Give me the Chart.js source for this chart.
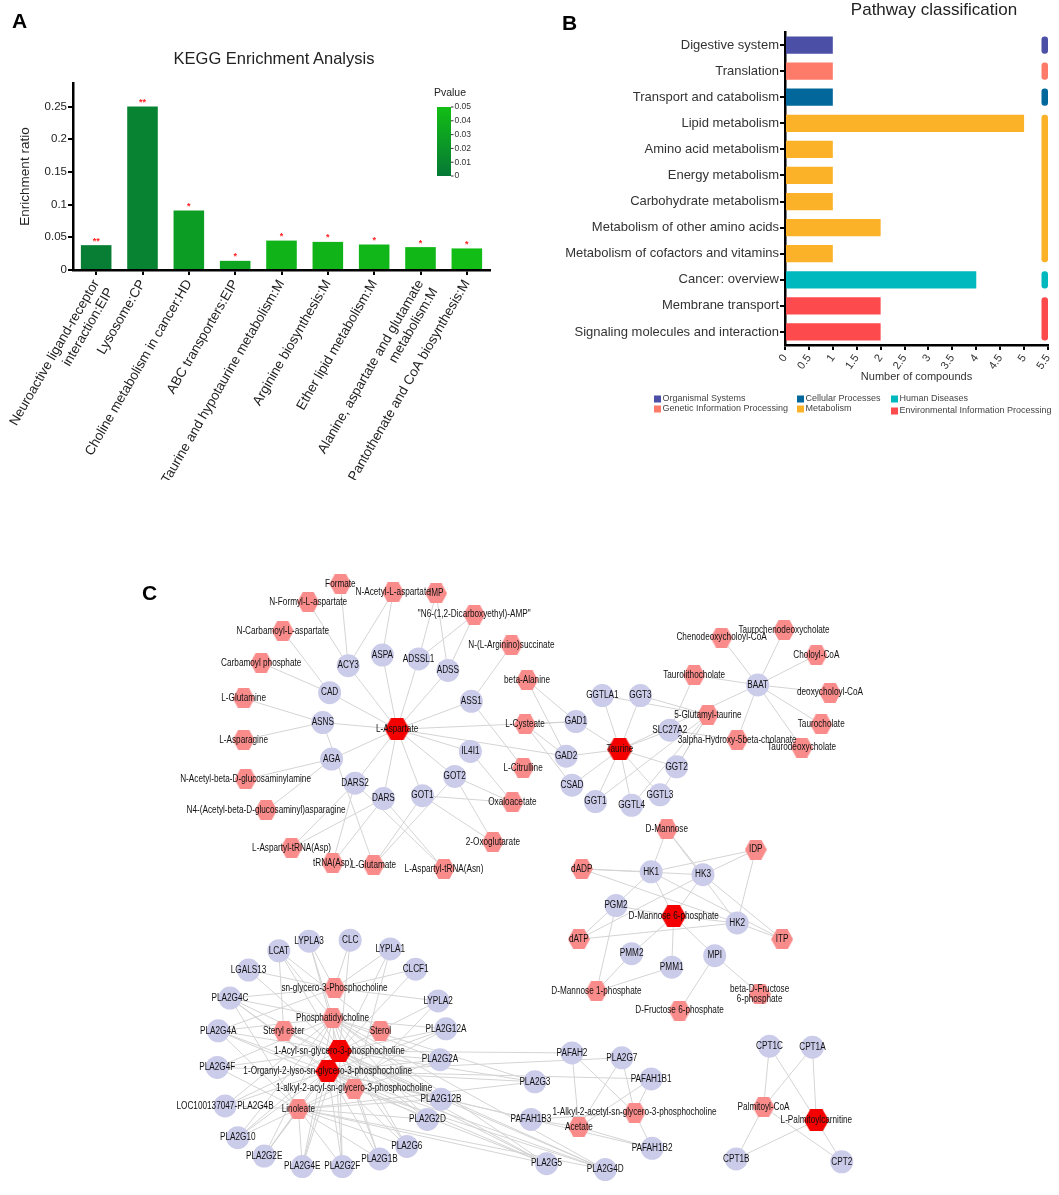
<!DOCTYPE html>
<html>
<head>
<meta charset="utf-8">
<title>KEGG enrichment, pathway classification and network</title>
<script src="https://cdn.jsdelivr.net/npm/chart.js@4.4.1/dist/chart.umd.min.js"></script>
<style>
  html, body { margin: 0; padding: 0; background: #fff; }
  #page { position: relative; width: 1059px; height: 1195px; overflow: hidden; font-family: Arial, "Liberation Sans", sans-serif; }
  #page canvas { position: absolute; }
  .panel { position: absolute; font-weight: bold; font-size: 21px; line-height: 1; color: #000; }
  .title { position: absolute; line-height: 1; white-space: nowrap; transform: translateX(-50%); color: #222; }
</style>
</head>
<body>
<div id="page">
  <canvas id="kegg" width="530" height="480" style="left:0;top:0"></canvas>
  <canvas id="pathway" width="529" height="430" style="left:530px;top:0"></canvas>
  <canvas id="network" width="1059" height="655" style="left:0;top:540px"></canvas>
  <div class="panel" style="left:12px;top:10px">A</div>
  <div class="panel" style="left:562px;top:12px">B</div>
  <div class="panel" style="left:142px;top:582px">C</div>
  <div class="title" style="left:274px;top:50px;font-size:16.5px">KEGG Enrichment Analysis</div>
  <div class="title" style="left:934px;top:1px;font-size:17px">Pathway classification</div>
</div>
<script>
const FONT = "Arial, 'Liberation Sans', Helvetica, sans-serif";
Chart.defaults.font.family = FONT;

// ---------- A: KEGG enrichment ----------
const keggPathways = [
  ['Neuroactive ligand-receptor', 'interaction:EIP'],
  'Lysosome:CP',
  'Choline metabolism in cancer:HD',
  'ABC transporters:EIP',
  'Taurine and hypotaurine metabolism:M',
  'Arginine biosynthesis:M',
  'Ether lipid metabolism:M',
  ['Alanine, aspartate and glutamate', 'metabolism:M'],
  'Pantothenate and CoA biosynthesis:M'
];
const keggRatio = [0.038, 0.25, 0.091, 0.014, 0.045, 0.043, 0.039, 0.035, 0.033];
const keggPvalue = [0.004, 0.008, 0.027, 0.032, 0.043, 0.043, 0.044, 0.045, 0.049];
const keggStars = ['**', '**', '*', '*', '*', '*', '*', '*', '*'];
const pvalueTicks = [0, 0.01, 0.02, 0.03, 0.04, 0.05];

// ---------- B: pathway classification ----------
const pathwayNames = [
  'Digestive system', 'Translation', 'Transport and catabolism', 'Lipid metabolism',
  'Amino acid metabolism', 'Energy metabolism', 'Carbohydrate metabolism',
  'Metabolism of other amino acids', 'Metabolism of cofactors and vitamins',
  'Cancer: overview', 'Membrane transport', 'Signaling molecules and interaction'
];
const pathwayCounts = [1, 1, 1, 5, 1, 1, 1, 2, 1, 4, 2, 2];
const pathwayClass = [
  'Organismal Systems', 'Genetic Information Processing', 'Cellular Processes',
  'Metabolism', 'Metabolism', 'Metabolism', 'Metabolism', 'Metabolism', 'Metabolism',
  'Human Diseases', 'Environmental Information Processing', 'Environmental Information Processing'
];
const classNames = [
  'Organismal Systems', 'Genetic Information Processing', 'Cellular Processes',
  'Metabolism', 'Human Diseases', 'Environmental Information Processing'
];

// ---------- C: network ----------
const GPC = 'sn-glycero-3-Phosphocholine', PC = 'Phosphatidylcholine', SE = 'Steryl ester', ST = 'Sterol';
const LPC = '1-Acyl-sn-glycero-3-phosphocholine', OLPC = '1-Organyl-2-lyso-sn-glycero-3-phosphocholine';
const AAPC = '1-alkyl-2-acyl-sn-glycero-3-phosphocholine', LIN = 'Linoleate';
const PAF = '1-Alkyl-2-acetyl-sn-glycero-3-phosphocholine', ACE = 'Acetate';

const geneNodes = [
  ['ASPA', 379, 647], ['ADSSL1', 416, 651], ['ACY3', 344, 658], ['ADSS', 446, 663],
  ['CAD', 325, 686], ['ASS1', 470, 695], ['ASNS', 318, 717], ['IL4I1', 469, 747],
  ['AGA', 327, 755], ['GOT2', 453, 773], ['DARS2', 351, 780], ['GOT1', 420, 793], ['DARS', 380, 796],
  ['GGTLA1', 604, 689], ['GGT3', 643, 689], ['GAD1', 577, 716], ['SLC27A2', 673, 725],
  ['GAD2', 567, 752], ['GGT2', 680, 763], ['CSAD', 573, 782], ['GGTL3', 663, 792],
  ['GGT1', 597, 799], ['GGTL4', 634, 803], ['BAAT', 763, 678],
  ['HK1', 654, 872], ['HK3', 707, 875], ['PGM2', 618, 907], ['HK2', 742, 925],
  ['PMM2', 634, 957], ['MPI', 719, 959], ['PMM1', 675, 971],
  ['LYPLA3', 304, 944], ['CLC', 346, 943], ['LCAT', 273, 954], ['LYPLA1', 387, 952],
  ['LGALS13', 242, 974], ['CLCF1', 413, 973], ['PLA2G4C', 223, 1003], ['LYPLA2', 436, 1006],
  ['PLA2G4A', 211, 1037], ['PLA2G12A', 444, 1035], ['PLA2G2A', 438, 1067], ['PLA2G4F', 210, 1075],
  ['PLA2G12B', 439, 1108], ['LOC100137047-PLA2G4B', 218, 1115], ['PLA2G2D', 425, 1129],
  ['PLA2G10', 231, 1148], ['PLA2G6', 404, 1157], ['PLA2G2E', 258, 1167], ['PLA2G1B', 376, 1170],
  ['PLA2G4E', 297, 1178], ['PLA2G2F', 338, 1178],
  ['PAFAH2', 573, 1060], ['PLA2G7', 624, 1065], ['PLA2G3', 535, 1090], ['PAFAH1B1', 654, 1087],
  ['PAFAH1B3', 531, 1129], ['PAFAH1B2', 655, 1159], ['PLA2G5', 547, 1175], ['PLA2G4D', 607, 1181],
  ['CPT1C', 775, 1053], ['CPT1A', 819, 1054], ['CPT1B', 741, 1170], ['CPT2', 849, 1173]
];
const metaboliteNodes = [
  ['Formate', 336, 573], ['N-Acetyl-L-aspartate', 390, 582], ['IMP', 434, 583],
  ['N-Formyl-L-aspartate', 303, 592], ['"N6-(1,2-Dicarboxyethyl)-AMP"', 473, 605],
  ['N-Carbamoyl-L-aspartate', 277, 622], ['N-(L-Arginino)succinate', 511, 637],
  ['Carbamoyl phosphate', 255, 655], ['beta-Alanine', 527, 673], ['L-Glutamine', 237, 692],
  ['L-Cysteate', 525, 719], ['L-Asparagine', 237, 735], ['L-Citrulline', 523, 764],
  ['N-Acetyl-beta-D-glucosaminylamine', 239, 776], ['Oxaloacetate', 512, 800],
  ['N4-(Acetyl-beta-D-glucosaminyl)asparagine', 260, 808], ['2-Oxoglutarate', 492, 841],
  ['L-Aspartyl-tRNA(Asp)', 286, 847], ['tRNA(Asp)', 328, 863], ['L-Glutamate', 370, 865],
  ['L-Aspartyl-tRNA(Asn)', 442, 869],
  ['Taurolithocholate', 698, 668], ['5-Glutamyl-taurine', 712, 709],
  ['3alpha-Hydroxy-5beta-cholanate', 742, 735], ['Chenodeoxycholoyl-CoA', 726, 629],
  ['Taurochenodeoxycholate', 790, 621], ['Choloyl-CoA', 823, 647], ['deoxycholoyl-CoA', 837, 686],
  ['Taurocholate', 828, 719], ['Taurodeoxycholate', 808, 743],
  ['D-Mannose', 670, 828], ['IDP', 761, 849], ['dADP', 583, 869], ['ITP', 788, 942], ['dATP', 580, 942],
  ['D-Mannose 1-phosphate', 598, 996], ['beta-D-Fructose\n6-phosphate', 765, 999],
  ['D-Fructose 6-phosphate', 683, 1016],
  [GPC, 330, 993], [PC, 328, 1024], [SE, 278, 1037], [ST, 377, 1037],
  [AAPC, 350, 1097], [LIN, 293, 1118], [PAF, 637, 1122], [ACE, 580, 1137],
  ['Palmitoyl-CoA', 769, 1116]
];
const keyMetaboliteNodes = [
  ['L-Aspartate', 394, 724], ['Taurine', 622, 745], ['D-Mannose 6-phosphate', 677, 918],
  [LPC, 335, 1058], [OLPC, 323, 1079], ['L-Palmitoylcarnitine', 823, 1130]
];
const networkLinks = [
  ['ASPA', ['L-Aspartate', 'N-Acetyl-L-aspartate']],
  ['ACY3', ['L-Aspartate', 'N-Acetyl-L-aspartate', 'Formate', 'N-Formyl-L-aspartate']],
  ['ADSSL1', ['L-Aspartate', 'IMP', '"N6-(1,2-Dicarboxyethyl)-AMP"']],
  ['ADSS', ['L-Aspartate', 'IMP', '"N6-(1,2-Dicarboxyethyl)-AMP"']],
  ['CAD', ['L-Aspartate', 'N-Carbamoyl-L-aspartate', 'Carbamoyl phosphate']],
  ['ASNS', ['L-Aspartate', 'L-Glutamine', 'L-Asparagine', 'L-Glutamate']],
  ['AGA', ['L-Aspartate', 'N-Acetyl-beta-D-glucosaminylamine', 'N4-(Acetyl-beta-D-glucosaminyl)asparagine']],
  ['ASS1', ['L-Aspartate', 'N-(L-Arginino)succinate', 'L-Citrulline']],
  ['IL4I1', ['L-Aspartate', 'Oxaloacetate']],
  ['GOT2', ['L-Aspartate', 'Oxaloacetate', '2-Oxoglutarate', 'L-Glutamate']],
  ['GOT1', ['L-Aspartate', 'Oxaloacetate', '2-Oxoglutarate', 'L-Glutamate']],
  ['DARS2', ['L-Aspartate', 'L-Aspartyl-tRNA(Asp)', 'tRNA(Asp)', 'L-Aspartyl-tRNA(Asn)']],
  ['DARS', ['L-Aspartate', 'L-Aspartyl-tRNA(Asp)', 'tRNA(Asp)', 'L-Aspartyl-tRNA(Asn)']],
  ['GAD1', ['L-Aspartate', 'Taurine', 'beta-Alanine', 'L-Cysteate']],
  ['GAD2', ['L-Aspartate', 'Taurine', 'beta-Alanine', 'L-Cysteate']],
  ['CSAD', ['Taurine', 'L-Cysteate']],
  ['GGTLA1', ['Taurine', '5-Glutamyl-taurine']],
  ['GGT3', ['Taurine', '5-Glutamyl-taurine']],
  ['SLC27A2', ['Taurine', 'Taurolithocholate', '3alpha-Hydroxy-5beta-cholanate']],
  ['GGT2', ['Taurine', '5-Glutamyl-taurine']],
  ['GGTL3', ['Taurine', '5-Glutamyl-taurine']],
  ['GGT1', ['Taurine', '5-Glutamyl-taurine']],
  ['GGTL4', ['Taurine', '5-Glutamyl-taurine']],
  ['BAAT', ['Taurine', 'Taurolithocholate', '3alpha-Hydroxy-5beta-cholanate', 'Chenodeoxycholoyl-CoA',
            'Taurochenodeoxycholate', 'Choloyl-CoA', 'deoxycholoyl-CoA', 'Taurocholate', 'Taurodeoxycholate']],
  ['HK1', ['D-Mannose', 'dADP', 'IDP', 'ITP', 'dATP', 'D-Mannose 6-phosphate']],
  ['HK3', ['D-Mannose', 'dADP', 'IDP', 'ITP', 'dATP', 'D-Mannose 6-phosphate']],
  ['HK2', ['D-Mannose', 'dADP', 'IDP', 'ITP', 'dATP', 'D-Mannose 6-phosphate']],
  ['PGM2', ['D-Mannose 6-phosphate', 'D-Mannose 1-phosphate']],
  ['PMM2', ['D-Mannose 6-phosphate', 'D-Mannose 1-phosphate']],
  ['PMM1', ['D-Mannose 6-phosphate', 'D-Mannose 1-phosphate']],
  ['MPI', ['D-Mannose 6-phosphate', 'D-Fructose 6-phosphate', 'beta-D-Fructose\n6-phosphate']],
  ['LYPLA3', [GPC, LPC, PC]],
  ['CLC', [GPC, LPC]],
  ['LCAT', [PC, SE, ST, LPC]],
  ['LYPLA1', [GPC, LPC, AAPC]],
  ['LGALS13', [GPC, LPC]],
  ['CLCF1', [GPC, LPC]],
  ['LYPLA2', [GPC, LPC, AAPC]],
  ['PLA2G4C', [PC, LPC, OLPC, AAPC, LIN, GPC]],
  ['PLA2G4A', [PC, LPC, OLPC, AAPC, LIN, GPC]],
  ['PLA2G4F', [PC, LPC, OLPC, LIN]],
  ['LOC100137047-PLA2G4B', [PC, LPC, OLPC, LIN]],
  ['PLA2G10', [PC, LPC, OLPC, LIN]],
  ['PLA2G2E', [PC, LPC, OLPC, LIN]],
  ['PLA2G4E', [PC, LPC, OLPC, LIN]],
  ['PLA2G2F', [PC, LPC, OLPC, LIN]],
  ['PLA2G1B', [PC, LPC, OLPC, LIN]],
  ['PLA2G6', [PC, LPC, OLPC, LIN]],
  ['PLA2G2D', [PC, LPC, OLPC, LIN]],
  ['PLA2G12B', [PC, LPC, OLPC, LIN]],
  ['PLA2G2A', [PC, LPC, OLPC, LIN]],
  ['PLA2G12A', [PC, LPC, OLPC, LIN]],
  ['PLA2G3', [PC, LPC, OLPC, LIN]],
  ['PLA2G5', [PC, LPC, OLPC, AAPC, LIN, SE]],
  ['PLA2G4D', [PC, LPC, OLPC, AAPC, LIN, SE]],
  ['PAFAH2', [PAF, ACE, LPC]],
  ['PLA2G7', [PAF, ACE, OLPC]],
  ['PAFAH1B1', [PAF, ACE, OLPC]],
  ['PAFAH1B3', [PAF, ACE, OLPC]],
  ['PAFAH1B2', [PAF, ACE, OLPC]],
  ['CPT1C', ['Palmitoyl-CoA', 'L-Palmitoylcarnitine']],
  ['CPT1A', ['Palmitoyl-CoA', 'L-Palmitoylcarnitine']],
  ['CPT1B', ['Palmitoyl-CoA', 'L-Palmitoylcarnitine']],
  ['CPT2', ['Palmitoyl-CoA', 'L-Palmitoylcarnitine']]
];

// ---------- styles ----------
const lowGreen = [6, 120, 54], highGreen = [18, 190, 20];
function pColor(p) {
  const t = Math.max(0, Math.min(1, p / 0.05));
  const c = lowGreen.map((v, i) => Math.round(v + (highGreen[i] - v) * t));
  return 'rgb(' + c.join(',') + ')';
}
const classColors = {
  'Organismal Systems': '#4b50a6',
  'Genetic Information Processing': '#fd7b68',
  'Cellular Processes': '#02679a',
  'Metabolism': '#fcb228',
  'Human Diseases': '#00b9bf',
  'Environmental Information Processing': '#fd4a4c'
};

// ---------- plugins ----------
const starLabels = {
  id: 'starLabels',
  afterDatasetsDraw(chart) {
    const ctx = chart.ctx;
    ctx.save();
    ctx.fillStyle = '#ff2222';
    ctx.font = 'bold 9px ' + FONT;
    ctx.textAlign = 'center';
    ctx.textBaseline = 'alphabetic';
    chart.getDatasetMeta(0).data.forEach((bar, i) => ctx.fillText(keggStars[i], bar.x, bar.y - 1.5));
    ctx.restore();
  }
};

const pvalueBar = {
  id: 'pvalueBar',
  afterDraw(chart) {
    const ctx = chart.ctx;
    const x0 = 437, x1 = 451, yTop = 107, yBot = 176;
    ctx.save();
    const g = ctx.createLinearGradient(0, yBot, 0, yTop);
    g.addColorStop(0, pColor(0));
    g.addColorStop(1, pColor(0.05));
    ctx.fillStyle = g;
    ctx.fillRect(x0, yTop, x1 - x0, yBot - yTop);
    ctx.fillStyle = '#333';
    ctx.font = '8.5px ' + FONT;
    ctx.textAlign = 'left';
    ctx.textBaseline = 'middle';
    pvalueTicks.forEach(p => {
      const y = yBot - (yBot - yTop) * p / 0.05;
      ctx.fillRect(x1, y - 0.5, 2.5, 1);
      ctx.fillText(String(p), x1 + 3.5, y);
    });
    ctx.fillStyle = '#222';
    ctx.font = '10.5px ' + FONT;
    ctx.textAlign = 'center';
    ctx.fillText('Pvalue', 450, 93);
    ctx.restore();
  }
};

const classStrips = {
  id: 'classStrips',
  afterDatasetsDraw(chart) {
    const ctx = chart.ctx, area = chart.chartArea;
    const bars = chart.getDatasetMeta(0).data;
    ctx.save();
    let start = 0;
    for (let i = 1; i <= pathwayClass.length; i++) {
      if (i === pathwayClass.length || pathwayClass[i] !== pathwayClass[start]) {
        const top = bars[start].y - bars[start].height / 2;
        const bottom = bars[i - 1].y + bars[i - 1].height / 2;
        ctx.fillStyle = classColors[pathwayClass[start]];
        ctx.beginPath();
        ctx.roundRect(area.right - 6.5, top, 6.5, bottom - top, 3);
        ctx.fill();
        start = i;
      }
    }
    // legend, three columns of two
    const slots = [[124, 399], [124, 409], [267, 399], [267, 409], [361, 399], [361, 411]];
    ctx.font = '9px ' + FONT;
    ctx.textAlign = 'left';
    ctx.textBaseline = 'middle';
    classNames.forEach((name, i) => {
      const [x, y] = slots[i];
      ctx.fillStyle = classColors[name];
      ctx.fillRect(x, y - 3.5, 7, 7);
      ctx.fillStyle = '#444';
      ctx.fillText(name, x + 8.5, y);
    });
    ctx.restore();
  }
};

const nodeLabels = {
  id: 'nodeLabels',
  afterDatasetsDraw(chart) {
    const ctx = chart.ctx;
    ctx.save();
    ctx.fillStyle = '#111';
    ctx.font = '10px ' + FONT;
    ctx.textAlign = 'center';
    ctx.textBaseline = 'middle';
    chart.data.datasets.forEach((ds, di) => {
      if (!ds.names) return;
      chart.getDatasetMeta(di).data.forEach((pt, i) => {
        const lines = ds.names[i].split('\n');
        lines.forEach((ln, k) => {
          ctx.save();
          ctx.translate(pt.x, pt.y + (k - (lines.length - 1) / 2) * 10.5);
          ctx.scale(0.82, 1);
          ctx.fillText(ln, 0, 0);
          ctx.restore();
        });
      });
    });
    ctx.restore();
  }
};

// ---------- A ----------
new Chart(document.getElementById('kegg'), {
  type: 'bar',
  data: {
    labels: keggPathways,
    datasets: [{
      data: keggRatio,
      backgroundColor: keggPvalue.map(pColor),
      categoryPercentage: 1,
      barPercentage: 0.66
    }]
  },
  options: {
    responsive: false,
    animation: false,
    layout: { padding: { top: 83, right: 40, left: 0, bottom: 0 } },
    plugins: { legend: { display: false }, tooltip: { enabled: false } },
    scales: {
      x: {
        grid: { offset: false, drawOnChartArea: false, tickLength: 5, color: '#000', lineWidth: 2 },
        border: { color: '#000', width: 2.5 },
        ticks: { autoSkip: false, minRotation: 60, maxRotation: 60, color: '#222', font: { size: 13.5 }, padding: 2 },
        afterFit: s => { s.height = 210; s.paddingLeft = 0; s.paddingRight = 0; }
      },
      y: {
        min: 0,
        max: 0.286,
        grid: { drawOnChartArea: false, tickLength: 5, color: '#000', lineWidth: 2 },
        border: { color: '#000', width: 2.5 },
        ticks: { stepSize: 0.05, color: '#222', font: { size: 11.5 }, padding: 1, callback: v => String(+v.toFixed(2)) },
        afterBuildTicks: s => {
          s.ticks = s.ticks.filter(t => Math.abs(t.value * 20 - Math.round(t.value * 20)) < 1e-6);
        },
        title: { display: true, text: 'Enrichment ratio', color: '#222', font: { size: 13.5 }, padding: { top: 17, bottom: 0 } },
        afterFit: s => { s.width = 73; }
      }
    }
  },
  plugins: [starLabels, pvalueBar]
});

// ---------- B ----------
new Chart(document.getElementById('pathway'), {
  type: 'bar',
  data: {
    labels: pathwayNames,
    datasets: [{
      data: pathwayCounts,
      backgroundColor: pathwayClass.map(c => classColors[c]),
      categoryPercentage: 1,
      barPercentage: 0.66
    }]
  },
  options: {
    indexAxis: 'y',
    responsive: false,
    animation: false,
    layout: { padding: { top: 32, right: 11, left: 0, bottom: 0 } },
    plugins: { legend: { display: false }, tooltip: { enabled: false } },
    scales: {
      x: {
        min: 0,
        max: 5.5,
        grid: { drawOnChartArea: false, tickLength: 5, color: '#000', lineWidth: 2 },
        border: { color: '#000', width: 2.5 },
        ticks: { stepSize: 0.5, minRotation: 55, maxRotation: 55, color: '#333', font: { size: 11 }, padding: 2,
                 callback: v => String(+v.toFixed(1)) },
        title: { display: true, text: 'Number of compounds', color: '#333', font: { size: 11 }, padding: { top: 0, bottom: 46 } },
        afterFit: s => { s.height = 85; s.paddingLeft = 0; s.paddingRight = 0; }
      },
      y: {
        grid: { offset: false, drawOnChartArea: false, tickLength: 5, color: '#000', lineWidth: 2 },
        border: { color: '#000', width: 2.5 },
        ticks: { autoSkip: false, color: '#333', font: { size: 13 }, padding: 1 },
        afterFit: s => { s.width = 255; }
      }
    }
  },
  plugins: [classStrips]
});

// ---------- C ----------
function hexagon(w, h, color) {
  const c = document.createElement('canvas');
  c.width = w; c.height = h;
  const g = c.getContext('2d');
  g.fillStyle = color;
  g.beginPath();
  g.moveTo(0, h / 2); g.lineTo(w / 4, 0); g.lineTo(3 * w / 4, 0);
  g.lineTo(w, h / 2); g.lineTo(3 * w / 4, h); g.lineTo(w / 4, h);
  g.closePath();
  g.fill();
  return c;
}

const nodePos = {};
[...geneNodes, ...metaboliteNodes, ...keyMetaboliteNodes].forEach(([n, x, y]) => { nodePos[n] = { x, y }; });
const edgePoints = [];
networkLinks.forEach(([gene, mets]) => {
  mets.forEach(m => {
    if (!nodePos[gene] || !nodePos[m]) { console.warn('missing node', gene, m); return; }
    edgePoints.push({ ...nodePos[gene] }, { ...nodePos[m] }, { x: nodePos[m].x, y: null });
  });
});
const toPoints = arr => arr.map(([, x, y]) => ({ x, y }));

new Chart(document.getElementById('network'), {
  type: 'scatter',
  data: {
    datasets: [
      { type: 'line', data: edgePoints, borderColor: '#d4d4d4', borderWidth: 1, pointRadius: 0,
        spanGaps: false, fill: false, tension: 0, order: 3, clip: false },
      { data: toPoints(geneNodes), names: geneNodes.map(n => n[0]), pointStyle: 'circle',
        pointRadius: 11.5, backgroundColor: '#cbcbea', borderWidth: 0, order: 2, clip: false },
      { data: toPoints(metaboliteNodes), names: metaboliteNodes.map(n => n[0]),
        pointStyle: hexagon(22, 20, '#f98b8b'), pointRadius: 11, backgroundColor: '#f98b8b', borderWidth: 0, order: 1, clip: false },
      { data: toPoints(keyMetaboliteNodes), names: keyMetaboliteNodes.map(n => n[0]),
        pointStyle: hexagon(25, 22, '#f40000'), pointRadius: 12, backgroundColor: '#f40000', borderWidth: 0, order: 0, clip: false }
    ]
  },
  options: {
    responsive: false,
    animation: false,
    layout: { padding: 0 },
    plugins: { legend: { display: false }, tooltip: { enabled: false } },
    scales: {
      x: { type: 'linear', min: 0, max: 1059, display: false },
      y: { type: 'linear', min: 540, max: 1195, reverse: true, display: false }
    }
  },
  plugins: [nodeLabels]
});
</script>
</body>
</html>
